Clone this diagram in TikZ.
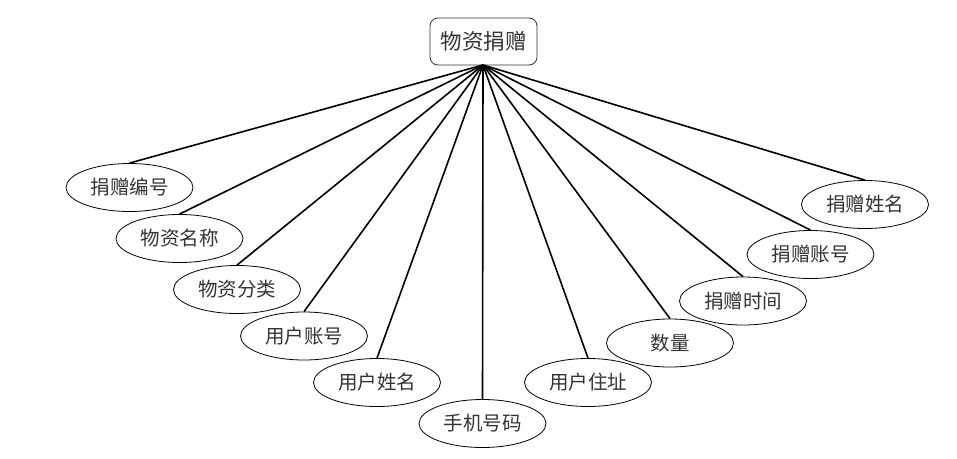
\documentclass[tikz,border=0pt]{standalone}
\usepackage{fontspec}
\newfontfamily\cjk{Noto Sans CJK SC}
\usetikzlibrary{shapes.geometric}
\begin{document}
\begin{tikzpicture}[x=1pt,y=-1pt,
  attr/.style={ellipse,draw=black,line width=0.8pt,minimum width=127pt,minimum height=48pt,inner sep=0pt,font=\cjk\fontsize{19.5}{21}\selectfont,text=black!80},
  topbox/.style={rectangle,rounded corners=8pt,draw=black!80,line width=0.8pt,minimum width=107pt,minimum height=47pt,inner sep=0pt,font=\cjk\fontsize{21.5}{23}\selectfont,text=black!80},
  link/.style={line width=1.6pt,black}]
\useasboundingbox (0,0) rectangle (957,458);
\node[topbox] (top) at (483.5,41.5) {物资捐赠};
\coordinate (hub) at (483,65);
\node[attr] (a1) at (129.5,187.5) {捐赠编号};
\node[attr] (a2) at (179.5,238.5) {物资名称};
\node[attr] (a3) at (237,289.5) {物资分类};
\node[attr] (a4) at (304,336) {用户账号};
\node[attr] (a5) at (377,382.5) {用户姓名};
\node[attr] (a6) at (482.5,423.5) {手机号码};
\node[attr] (a7) at (588,382.5) {用户住址};
\node[attr] (a8) at (670,343) {数量};
\node[attr] (a9) at (743,301) {捐赠时间};
\node[attr] (a10) at (810.5,254.5) {捐赠账号};
\node[attr] (a11) at (865,204.5) {捐赠姓名};
\foreach \n in {a1,a2,a3,a4,a5,a6,a7,a8,a9,a10,a11}
  \draw[link] (hub) -- (\n.north);
\end{tikzpicture}
\end{document}
